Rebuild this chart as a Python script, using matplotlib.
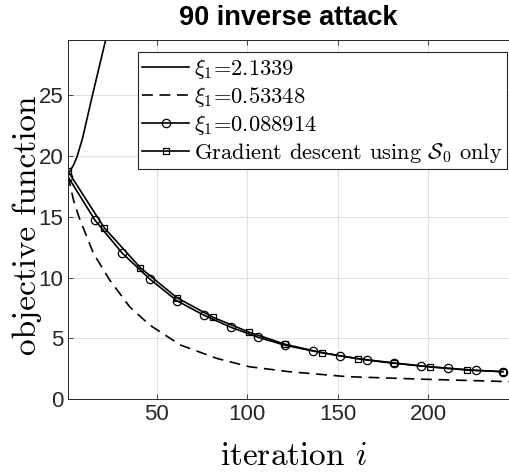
import matplotlib
matplotlib.use("Agg")
import matplotlib.pyplot as plt

plt.rcParams["mathtext.fontset"] = "cm"
plt.rcParams["axes.unicode_minus"] = False

# xi_1 = 2.1339 (diverges)
it_a = [1, 2, 4, 6, 9, 14, 22, 26]
obj_a = [18.55, 18.75, 19.25, 19.95, 21.45, 24.7, 29.7, 32.2]

# xi_1 = 0.53348
it_b = [1, 4, 7, 15, 24, 35, 46, 63, 83, 101, 123, 155, 199, 245]
obj_b = [18.4, 16.4, 15.0, 12.0, 9.8, 7.6, 6.1, 4.45, 3.35, 2.66, 2.25, 1.84, 1.62, 1.43]

# xi_1 = 0.088914
it_c = [1, 16, 31, 46, 61, 76, 91, 106, 121, 136, 151, 166, 181, 196, 211, 226, 241]
obj_c = [18.3, 14.7, 12.0, 9.9, 8.1, 6.9, 5.9, 5.08, 4.42, 3.96, 3.55, 3.21, 2.94, 2.72,
         2.53, 2.36, 2.25]

# gradient descent using S_0 only
it_d = [1, 21, 41, 61, 81, 101, 121, 141, 161, 181, 201, 221, 241]
obj_d = [18.75, 14.1, 10.8, 8.35, 6.73, 5.5, 4.5, 3.82, 3.32, 2.97, 2.64, 2.39, 2.25]

labels = [r"$\xi_1$=2.1339", r"$\xi_1$=0.53348", r"$\xi_1$=0.088914",
          r"Gradient descent using $\mathcal{S}_0$ only"]

fig = plt.figure(figsize=(5.09, 4.73), dpi=100)
ax = fig.add_axes([68 / 509, 1 - 399 / 473, 442 / 509, 359.5 / 473])

lw = 1.2
ax.plot(it_a, obj_a, "k-", lw=lw, label=labels[0])
ax.plot(it_b, obj_b, "k--", lw=lw, dashes=(6.5, 4), label=labels[1])
ax.plot(it_c, obj_c, "k-", lw=lw, marker="o", ms=6, mfc="none", mew=0.9, label=labels[2])
ax.plot(it_d, obj_d, "k-", lw=lw, marker="s", ms=4.5, mfc="none", mew=0.9, label=labels[3])

ax.set_xlim(1, 245)
ax.set_ylim(0, 29.6)
ax.set_xticks([50, 100, 150, 200])
ax.set_yticks([0, 5, 10, 15, 20, 25])
ax.grid(True, color="0.88", lw=0.8)
ax.set_axisbelow(True)
ax.tick_params(direction="in", length=3.6, width=0.6, top=True, right=False,
               labelsize=16, colors="0.15")
for t in ax.get_xticklabels() + ax.get_yticklabels():
    t.set_fontfamily("Liberation Sans")
for s in ax.spines.values():
    s.set_color("0.15")
    s.set_linewidth(0.7)

ax.set_xlabel(r"iteration $i$", fontfamily="cmr10", fontsize=24)
ax.set_ylabel("objective function", fontfamily="cmr10", fontsize=24)
ax.xaxis.label.set_va("center")
ax.yaxis.label.set_va("center")
ax.xaxis.set_label_coords(0.509, -0.159)
ax.yaxis.set_label_coords(-0.093, 0.484)

ax.text(0.498, 1.06, "90 inverse attack", transform=ax.transAxes, ha="center", va="center",
        fontfamily="Liberation Sans", fontweight="bold", fontsize=19.5)

leg = ax.legend(loc="upper right", bbox_to_anchor=(0.993, 0.965), borderaxespad=0,
                prop=dict(family="cmr10", size=16.2), handlelength=2.1, handletextpad=0.2,
                labelspacing=0.18, borderpad=0.2, fancybox=False, framealpha=1)
leg.get_frame().set_edgecolor("0.15")
leg.get_frame().set_linewidth(0.8)

fig.savefig("out.png", dpi=100)
